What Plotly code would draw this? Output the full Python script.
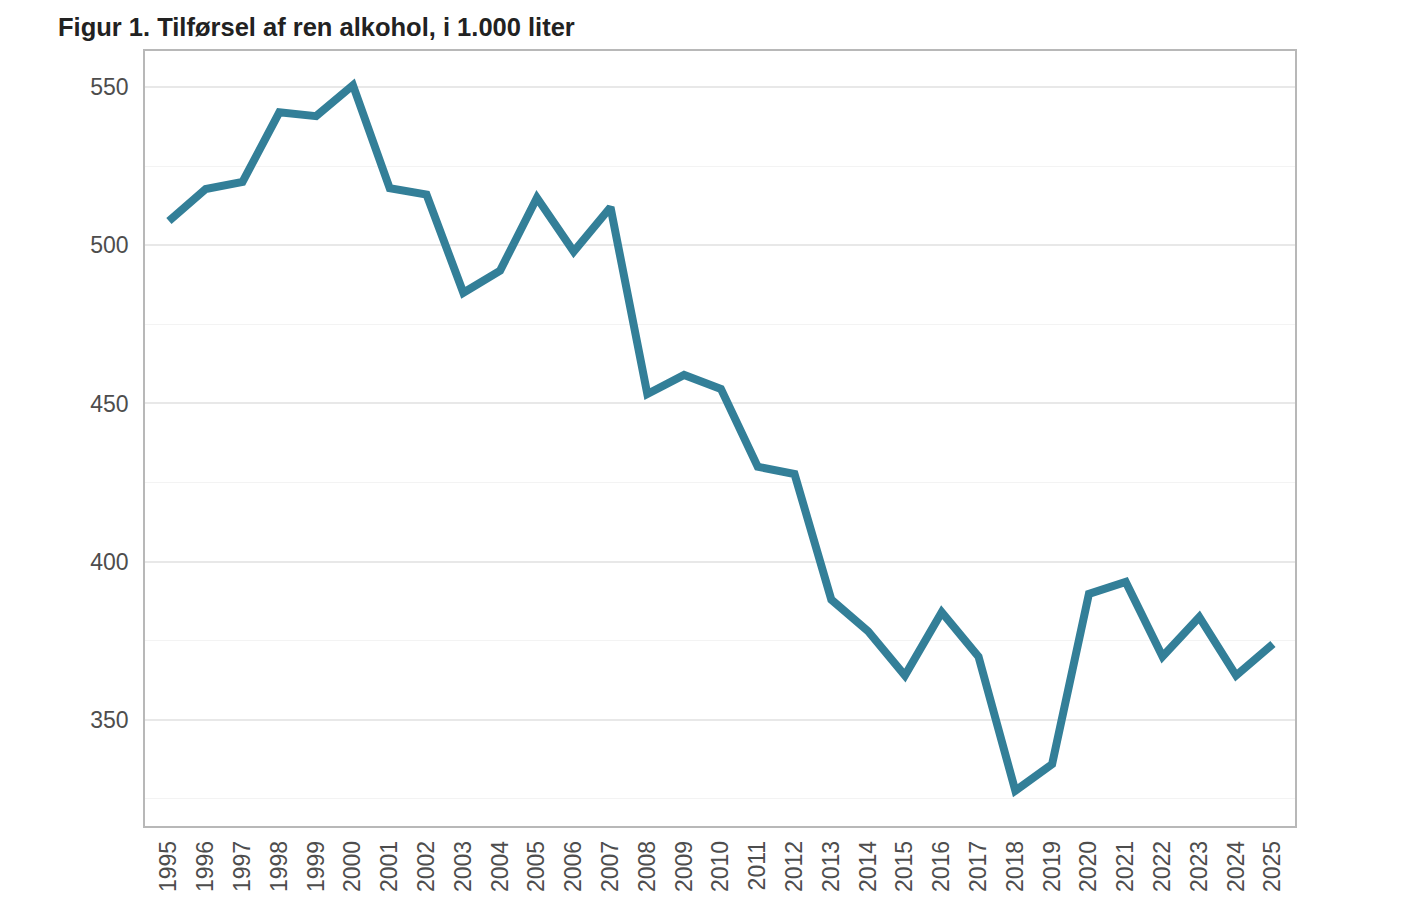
import plotly.graph_objects as go

years = list(range(1995, 2026))
values = [507.7, 517.8, 520.0, 542.0, 540.8, 550.6, 518.0, 516.0, 485.0, 492.0,
          515.0, 498.0, 512.0, 453.0, 459.0, 454.6, 430.0, 427.7, 388.0, 378.0,
          364.0, 384.0, 370.0, 327.6, 336.0, 389.8, 393.6, 370.0, 382.5, 364.0, 374.0]
y_ticks = [350, 400, 450, 500, 550]
y_minor = [325, 375, 425, 475, 525]
title_text = "Figur 1. Tilførsel af ren alkohol, i 1.000 liter"

fig = go.Figure()
fig.add_trace(go.Scatter(
    x=years, y=values, mode="lines",
    line=dict(color="#337F98", width=8),
    hoverinfo="x+y", showlegend=False,
))

fig.update_layout(
    width=1396, height=888,
    paper_bgcolor="white", plot_bgcolor="white",
    margin=dict(l=137, r=109, t=43, b=70),
    font=dict(family="Liberation Sans, Arial, sans-serif", color="#4d4d4d"),
)
fig.add_annotation(text="<b>" + title_text + "</b>", xref="paper", yref="paper",
                   x=-0.0775, y=1.0, xanchor="left", yanchor="bottom", yshift=8,
                   showarrow=False,
                   font=dict(size=25.5, color="#222222", family="Liberation Sans, Arial, sans-serif"))

fig.update_xaxes(
    range=[1994.35, 2025.6],
    tickmode="array", tickvals=years, ticktext=[str(y) for y in years],
    tickangle=-90, tickfont=dict(size=23, color="#4d4d4d"),
    showgrid=False, zeroline=False, automargin=False,
    showline=True, linecolor="#b8b8b8", linewidth=1.5, mirror=True,
    ticks="", ticklabelstandoff=4,
)
fig.update_yaxes(
    range=[316.45, 561.4],
    tickmode="array", tickvals=y_ticks, ticktext=[str(v) for v in y_ticks],
    tickfont=dict(size=23, color="#4d4d4d"),
    showgrid=True, gridcolor="#e8e8e8", gridwidth=1.5,
    minor=dict(tickmode="array", tickvals=y_minor,
               showgrid=True, gridcolor="#f3f3f3", gridwidth=1),
    zeroline=False, automargin=False,
    showline=True, linecolor="#b8b8b8", linewidth=1.5, mirror=True,
    ticks="", ticklabelstandoff=10,
)

fig.write_html("out.html")
